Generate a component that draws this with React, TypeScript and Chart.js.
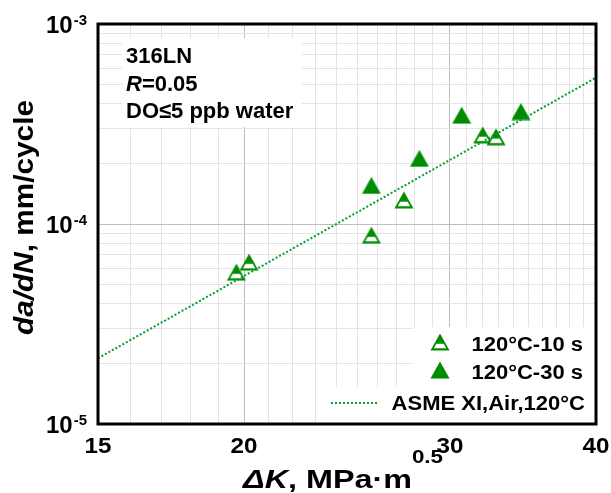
import React, { useEffect, useRef } from 'react';
import { Chart, registerables } from 'chart.js';

Chart.register(...registerables);

// ---- data ----
const K_10S = [19.7, 20.2, 25.7, 27.4, 32.0, 32.85];
const DADN_10S = [5.75e-5, 6.45e-5, 8.8e-5, 1.32e-4, 2.79e-4, 2.73e-4];
const K_30S = [25.7, 28.25, 30.7, 34.5];
const DADN_30S = [1.56e-4, 2.13e-4, 3.5e-4, 3.65e-4];
const K_ASME = [15, 40];
const DADN_ASME = [2.13e-5, 5.39e-4];

const SERIES_LABELS = ['120°C-10 s', '120°C-30 s', 'ASME XI,Air,120°C'];

const X_GRID = [15, 16, 17, 18, 19, 20, 21, 22, 23, 24, 25, 26, 27, 28, 29, 30, 31, 32, 33, 34, 35, 36, 37, 38, 39, 40];
const X_LABELS = [15, 20, 30, 40];
const X_MAJOR = [20, 30];
const Y_GRID = [
  1e-5, 2e-5, 3e-5, 4e-5, 5e-5, 6e-5, 7e-5, 8e-5, 9e-5,
  1e-4, 2e-4, 3e-4, 4e-4, 5e-4, 6e-4, 7e-4, 8e-4, 9e-4, 1e-3,
];
const Y_MAJOR = [1e-4];
const Y_LABEL_EXP = [-5, -4, -3];

const GREEN = '#008c00';
const LINE_GREEN = '#00a030';
const FONT = '"Liberation Sans", Arial, sans-serif';

type Part = { text: string; font: string; dy?: number };

function drawParts(
  ctx: CanvasRenderingContext2D,
  parts: Part[],
  x: number,
  y: number,
  align: 'left' | 'right' | 'center',
  scaleX = 1,
  fitWidth?: number
) {
  ctx.save();
  ctx.textAlign = 'left';
  ctx.textBaseline = 'alphabetic';
  let natural = 0;
  const widths = parts.map((p) => {
    ctx.font = p.font;
    const w = ctx.measureText(p.text).width;
    natural += w;
    return w;
  });
  const sx = fitWidth ? fitWidth / natural : scaleX;
  const total = natural * sx;
  let start = x;
  if (align === 'right') start = x - total;
  else if (align === 'center') start = x - total / 2;
  ctx.translate(start, y);
  ctx.scale(sx, 1);
  let off = 0;
  parts.forEach((p, i) => {
    ctx.font = p.font;
    ctx.fillText(p.text, off, p.dy || 0);
    off += widths[i];
  });
  ctx.restore();
}

function makeTriangle(open: boolean): HTMLCanvasElement {
  const c = document.createElement('canvas');
  const w = 20;
  const h = 18;
  c.width = w;
  c.height = h;
  const g = c.getContext('2d')!;
  const cx = w / 2;
  const top = 0.5;
  const base = h - 0.5;
  const half = cx - 0.5;
  g.beginPath();
  g.moveTo(cx, top);
  g.lineTo(cx + half, base);
  g.lineTo(cx - half, base);
  g.closePath();
  g.fillStyle = GREEN;
  g.fill();
  if (open) {
    // white band in the lower part of the triangle, inside a thin outline
    const H = base - top;
    const inset = 1.8;
    const hShift = (inset * Math.sqrt(half * half + H * H)) / H;
    const yA = top + H * 0.6;
    const yB = base - 2.2;
    const hwA = (half * (yA - top)) / H - hShift;
    const hwB = (half * (yB - top)) / H - hShift;
    g.beginPath();
    g.moveTo(cx - hwA, yA);
    g.lineTo(cx + hwA, yA);
    g.lineTo(cx + hwB, yB);
    g.lineTo(cx - hwB, yB);
    g.closePath();
    g.fillStyle = '#ffffff';
    g.fill();
  }
  return c;
}

function near(v: number, arr: number[]) {
  return arr.some((a) => Math.abs(v - a) / a < 1e-6);
}

export default function App() {
  const ref = useRef<HTMLCanvasElement | null>(null);

  useEffect(() => {
    document.body.style.margin = '0';
    const canvas = ref.current;
    if (!canvas) return;
    const openImg = makeTriangle(true);
    const fullImg = makeTriangle(false);

    const decor = {
      id: 'decor',
      afterDraw(chart: any) {
        const { ctx, chartArea: a, scales } = chart;
        const xs = scales.x;
        const ys = scales.y;
        ctx.save();

        // annotation box
        ctx.fillStyle = '#ffffff';
        ctx.fillRect(a.left + 24, a.top + 14, 180, 89);
        ctx.fillStyle = '#000';
        const bf = `bold 22px ${FONT}`;
        const bif = `italic bold 22px ${FONT}`;
        drawParts(ctx, [{ text: '316LN', font: bf }], a.left + 28, a.top + 39, 'left');
        drawParts(ctx, [{ text: 'R', font: bif }, { text: '=0.05', font: bf }], a.left + 28, a.top + 67, 'left');
        drawParts(ctx, [{ text: 'DO≤5 ppb water', font: bf }], a.left + 28, a.top + 94, 'left');

        // legend
        ctx.fillStyle = '#ffffff';
        ctx.fillRect(413, 327, 181, 60);
        ctx.fillRect(330, 387, 264, 35);
        ctx.drawImage(openImg, 440 - openImg.width / 2, 342 - openImg.height / 2);
        ctx.drawImage(fullImg, 440 - fullImg.width / 2, 370 - fullImg.height / 2);
        ctx.save();
        ctx.strokeStyle = LINE_GREEN;
        ctx.lineWidth = 2;
        ctx.setLineDash([2, 2]);
        ctx.beginPath();
        ctx.moveTo(331, 403);
        ctx.lineTo(379, 403);
        ctx.stroke();
        ctx.restore();
        ctx.fillStyle = '#000';
        const lf = `bold 20px ${FONT}`;
        drawParts(ctx, [{ text: SERIES_LABELS[0], font: lf }], 583, 350.5, 'right', 1.1);
        drawParts(ctx, [{ text: SERIES_LABELS[1], font: lf }], 583, 379, 'right', 1.1);
        drawParts(ctx, [{ text: SERIES_LABELS[2], font: lf }], 585, 410, 'right', 1.1);

        // frame
        ctx.strokeStyle = '#000';
        ctx.lineWidth = 3;
        ctx.strokeRect(a.left, a.top, a.right - a.left, a.bottom - a.top);

        // x tick labels
        X_LABELS.forEach((v) => {
          const px = xs.getPixelForValue(v);
          drawParts(ctx, [{ text: String(v), font: `bold 22px ${FONT}` }], px, a.bottom + 29, 'center', 1.1);
        });

        // y tick labels 10^e
        Y_LABEL_EXP.forEach((e) => {
          const py = ys.getPixelForValue(Math.pow(10, e));
          ctx.font = `bold 15px ${FONT}`;
          const supText = String(e);
          const supW = ctx.measureText(supText).width;
          const supRight = a.left - 11;
          drawParts(ctx, [{ text: supText, font: `bold 15px ${FONT}` }], supRight, py + 0.5, 'right');
          drawParts(ctx, [{ text: '10', font: `bold 24px ${FONT}` }], supRight - supW - 1, py + 8.5, 'right');
        });

        // x title
        drawParts(
          ctx,
          [
            { text: 'ΔK', font: `italic bold 26px ${FONT}` },
            { text: ', MPa·m', font: `bold 26px ${FONT}` },
            { text: '0.5', font: `bold 18px ${FONT}`, dy: -25 },
          ],
          243,
          488,
          'left',
          1,
          200
        );

        // y title (rotated)
        ctx.save();
        ctx.translate(33, 335);
        ctx.rotate(-Math.PI / 2);
        drawParts(
          ctx,
          [
            { text: 'da/dN', font: `italic bold 27px ${FONT}` },
            { text: ', mm/cycle', font: `bold 27px ${FONT}` },
          ],
          0,
          0,
          'left',
          1,
          235
        );
        ctx.restore();

        ctx.restore();
      },
    };

    const chart = new Chart(canvas, {
      type: 'scatter',
      data: {
        datasets: [
          {
            label: SERIES_LABELS[2],
            data: K_ASME.map((k, i) => ({ x: k, y: DADN_ASME[i] })),
            showLine: true,
            borderColor: LINE_GREEN,
            borderWidth: 2,
            borderDash: [2, 2],
            pointRadius: 0,
            fill: false,
            order: 0,
          } as any,
          {
            label: SERIES_LABELS[0],
            data: K_10S.map((k, i) => ({ x: k, y: DADN_10S[i] })),
            pointStyle: openImg,
            pointRadius: 9,
            order: 1,
          } as any,
          {
            label: SERIES_LABELS[1],
            data: K_30S.map((k, i) => ({ x: k, y: DADN_30S[i] })),
            pointStyle: fullImg,
            pointRadius: 9,
            order: 2,
          } as any,
        ],
      },
      options: {
        animation: false,
        responsive: false,
        devicePixelRatio: 1,
        layout: { padding: { left: 98, top: 24, right: 15, bottom: 69 } },
        plugins: { legend: { display: false }, tooltip: { enabled: false } },
        scales: {
          x: {
            type: 'logarithmic',
            min: 15,
            max: 40,
            afterBuildTicks: (s: any) => {
              s.ticks = X_GRID.map((v) => ({ value: v }));
            },
            ticks: { display: false },
            border: { display: false },
            grid: {
              drawTicks: false,
              lineWidth: 1,
              color: (c: any) => (near(c.tick?.value, X_MAJOR) ? '#bdbdbd' : '#e4e4e4'),
            },
          },
          y: {
            type: 'logarithmic',
            min: 1e-5,
            max: 1e-3,
            afterBuildTicks: (s: any) => {
              s.ticks = Y_GRID.map((v) => ({ value: v }));
            },
            ticks: { display: false },
            border: { display: false },
            grid: {
              drawTicks: false,
              lineWidth: 1,
              color: (c: any) => (near(c.tick?.value, Y_MAJOR) ? '#bdbdbd' : '#e4e4e4'),
            },
          },
        },
      } as any,
      plugins: [decor],
    });
    return () => chart.destroy();
  }, []);

  return (
    <div style={{ position: 'absolute', left: 0, top: 0, width: 611, height: 493, background: '#fff' }}>
      <canvas ref={ref} width={611} height={493} style={{ display: 'block' }} />
    </div>
  );
}
